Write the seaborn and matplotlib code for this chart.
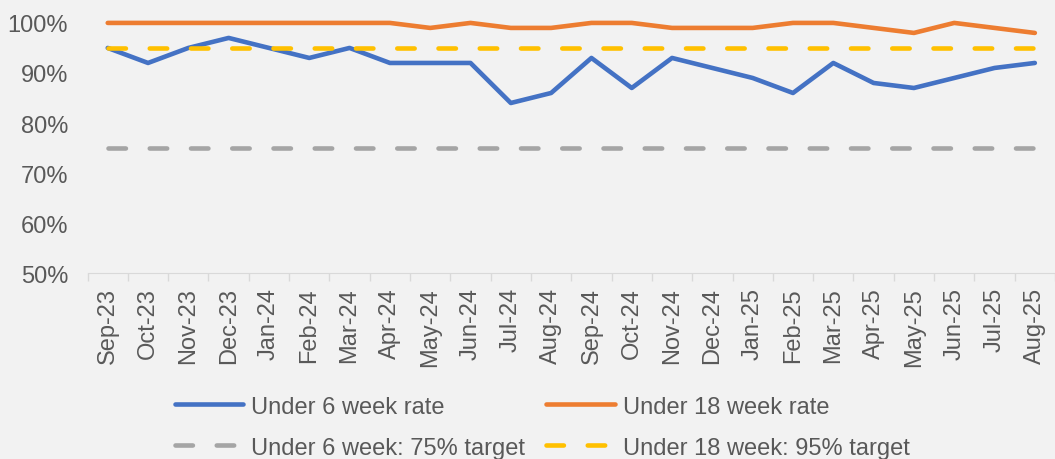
import pandas as pd
import matplotlib.pyplot as plt
import seaborn as sns
from matplotlib.ticker import PercentFormatter, FixedLocator

months = ['Sep-23', 'Oct-23', 'Nov-23', 'Dec-23', 'Jan-24', 'Feb-24', 'Mar-24', 'Apr-24',
          'May-24', 'Jun-24', 'Jul-24', 'Aug-24', 'Sep-24', 'Oct-24', 'Nov-24', 'Dec-24',
          'Jan-25', 'Feb-25', 'Mar-25', 'Apr-25', 'May-25', 'Jun-25', 'Jul-25', 'Aug-25']
under_6 = [95, 92, 95, 97, 95, 93, 95, 92, 92, 92, 84, 86, 93, 87, 93, 91, 89, 86, 92, 88, 87, 89, 91, 92]
under_18 = [100, 100, 100, 100, 100, 100, 100, 100, 99, 100, 99, 99, 100, 100, 99, 99, 99, 100, 100, 99, 98, 100, 99, 98]
target_6 = [75] * len(months)
target_18 = [95] * len(months)

series = ['Under 6 week rate', 'Under 18 week rate', 'Under 6 week: 75% target', 'Under 18 week: 95% target']
colors = ['#4472C4', '#ED7D31', '#A5A5A5', '#FFC000']

df = pd.DataFrame({'month': months, series[0]: under_6, series[1]: under_18,
                   series[2]: target_6, series[3]: target_18})
df['idx'] = range(len(months))

sns.set_style('white')
plt.rcParams['font.family'] = ['Liberation Sans', 'DejaVu Sans']
bg = '#F2F2F2'
txt = '#595959'
fs = 17

fig = plt.figure(figsize=(10.55, 4.6), dpi=100, facecolor=bg)
ax = fig.add_axes([0.083, 0.404, 0.917, 0.544], facecolor=bg)

lw = 3.3
for name, col in zip(series, colors):
    dashed = 'target' in name
    sns.lineplot(data=df, x='idx', y=name, ax=ax, color=col, linewidth=lw, label=name,
                 solid_capstyle='round', dash_capstyle='round', clip_on=False,
                 linestyle=(0, (3.8, 5.2)) if dashed else '-')

ax.set_xlim(-0.5, len(months) - 0.5)
ax.set_ylim(50, 100)
ax.yaxis.set_major_formatter(PercentFormatter(decimals=0))
ax.set_yticks(range(50, 101, 10))
ax.set_xticks(range(len(months)))
ax.set_xticklabels(months, rotation=90)
ax.xaxis.set_minor_locator(FixedLocator([i - 0.5 for i in range(len(months) + 1)]))
ax.tick_params(axis='x', which='major', length=0, pad=10, labelsize=fs, labelcolor=txt)
ax.tick_params(axis='x', which='minor', length=6, color='#D9D9D9', width=1, bottom=True)
ax.tick_params(axis='y', length=0, pad=14, labelsize=fs, labelcolor=txt)
for s in ['top', 'right', 'left']:
    ax.spines[s].set_visible(False)
ax.spines['bottom'].set_color('#D9D9D9')
ax.set_xlabel('')
ax.set_ylabel('')

# legend fills column-wise, reorder so rows read: rates, then targets
handles, labels = ax.get_legend_handles_labels()
order = [0, 2, 1, 3]
ax.legend([handles[i] for i in order], [labels[i] for i in order],
          ncol=2, loc='center', bbox_to_anchor=(0.47, -0.615), frameon=False,
          fontsize=fs, labelcolor=txt, handlelength=2.9, handletextpad=0.34,
          columnspacing=0.9, labelspacing=0.8, borderpad=0)

fig.savefig('out.png', dpi=100, facecolor=bg)
